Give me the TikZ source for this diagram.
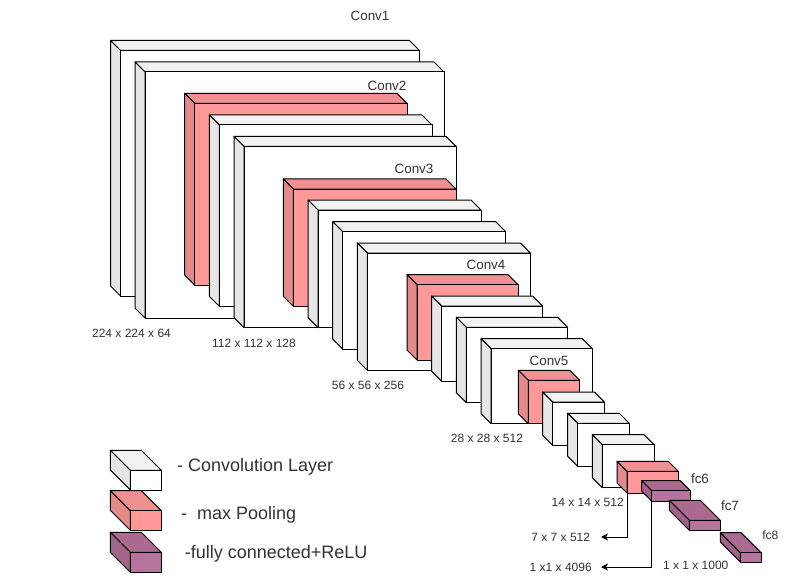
\documentclass[tikz,border=0pt]{standalone}
\usepackage{fontspec}
\setmainfont{Liberation Sans}
\usetikzlibrary{arrows.meta}
\definecolor{wtop}{HTML}{F2F2F2}\definecolor{wleft}{HTML}{E6E6E6}\definecolor{wfront}{HTML}{FFFFFF}
\definecolor{ptop}{HTML}{F19090}\definecolor{pleft}{HTML}{E58A8A}\definecolor{pfront}{HTML}{FF9999}
\definecolor{vtop}{HTML}{AC6A91}\definecolor{vleft}{HTML}{A06389}\definecolor{vfront}{HTML}{B5739D}
\definecolor{txt}{HTML}{333333}
\tikzset{
  edge/.style={draw=black,line width=1pt,line join=round},
  lab/.style={text=txt,inner sep=0pt,text height=0.72em,text depth=0.2em},
  conv/.style={lab,yshift=-3pt,font=\fontsize{13.4}{15}\selectfont},
  dims/.style={lab,yshift=-2.6pt,font=\fontsize{12}{14}\selectfont},
  legendtext/.style={lab,anchor=west,yshift=-4pt,font=\fontsize{18}{20}\selectfont},
  flow/.style={draw=black,line width=1pt,-{Stealth[length=7pt,width=7pt,inset=2pt]}}
}
\newcommand{\cube}[7]{%
  \pgfmathsetmacro{\fx}{#3+#7}\pgfmathsetmacro{\fy}{#4+#7}%
  \pgfmathsetmacro{\tx}{#5-#7}%
  \pgfmathsetmacro{\fw}{#5-#3-#7}\pgfmathsetmacro{\fh}{#6-#4-#7}%
  \pgfmathsetmacro{\lb}{#6-#7}%
  \draw[edge,fill=#2top] (#3,#4) -- (\tx,#4) -- (#5,\fy) -- (\fx,\fy) -- cycle;
  \draw[edge,fill=#2left] (#3,#4) -- (\fx,\fy) -- (\fx,#6) -- (#3,\lb) -- cycle;
  \node[edge,fill=#2front,anchor=north west,inner sep=0pt,outer sep=0pt,
        minimum width=\fw pt,minimum height=\fh pt] (#1) at (\fx,\fy) {};
}
\begin{document}
\begin{tikzpicture}[x=1pt,y=-1pt]
\useasboundingbox[fill=white] (0,0) rectangle (790,583);
\cube{c1}{w}{110.5}{40.5}{419.5}{296}{10}
\cube{c2}{w}{135}{62}{444}{318}{10}
\cube{c3}{p}{184.7}{93.3}{407}{285}{10}
\cube{c4}{w}{209.3}{115}{432}{306.3}{10}
\cube{c5}{w}{234}{136.3}{456}{327.7}{10}
\cube{c6}{p}{283.3}{179}{456}{306.3}{10}
\cube{c7}{w}{308}{200}{481}{327.7}{10}
\cube{c8}{w}{332.7}{221.7}{505.7}{349}{10}
\cube{c9}{w}{357.3}{243}{530.3}{370.3}{10}
\cube{c10}{p}{407}{274.7}{518}{360}{10}
\cube{c11}{w}{431.7}{296}{542.7}{381.3}{10}
\cube{c12}{w}{456.3}{317.3}{567.7}{402.7}{10}
\cube{c13}{w}{481}{338.7}{592.3}{423.7}{10}
\cube{c14}{p}{518.3}{370.3}{579.7}{423.7}{10}
\cube{c15}{w}{542.7}{392}{604.3}{445.3}{10}
\cube{c16}{w}{567.7}{413.3}{629.3}{466.3}{10}
\cube{c17}{w}{592.3}{434.7}{654}{487.7}{10}
\cube{c18}{p}{617}{461.3}{678.3}{493}{10}
\cube{c19}{v}{641.7}{480.7}{690.3}{501}{10}
\cube{c20}{v}{669.3}{500.3}{720.3}{530.3}{20}
\cube{c21}{v}{720.3}{532.7}{761}{562}{20}
% legend
\cube{k1}{w}{110.3}{450.3}{161.3}{490}{20}
\cube{k2}{p}{110.3}{490.7}{161.3}{530.3}{20}
\cube{k3}{v}{110.3}{532.3}{161.3}{572.3}{20}
\node[legendtext] (t1) at (177,465) {- Convolution Layer};
\node[legendtext] (t2) at (181,513) {-\ \ max Pooling};
\node[legendtext] (t3) at (184.7,551.7) {-fully connected+ReLU};
% labels
\node[conv] (l1) at (370,15) {Conv1};
\node[conv] (l2) at (387,85) {Conv2};
\node[conv] (l3) at (414,168) {Conv3};
\node[conv] (l4) at (486,264) {Conv4};
\node[conv] (l5) at (549,360) {Conv5};
\node[dims] (d1) at (131.5,332) {224 x 224 x 64};
\node[dims] (d2) at (254,342) {112 x 112 x 128};
\node[dims] (d3) at (368,384) {56 x 56 x 256};
\node[dims] (d4) at (487,437.7) {28 x 28 x 512};
\node[dims] (d5) at (587.7,501.3) {14 x 14 x 512};
\node[dims] (d6) at (560.7,536.7) {7 x 7 x 512};
\node[dims] (d7) at (560.7,566.7) {1 x1 x 4096};
\node[dims] (d8) at (695.7,564.7) {1 x 1 x 1000};
\node[conv] (f6) at (700,478) {fc6};
\node[conv] (f7) at (730,505) {fc7};
\node[dims] (f8) at (770.3,534.7) {fc8};
% connectors
\coordinate (a1) at (601,537);
\coordinate (a2) at (601,567);
\draw[flow] (c18.south west) |- (a1);
\draw[flow] (c19.south west) |- (a2);
\end{tikzpicture}
\end{document}
